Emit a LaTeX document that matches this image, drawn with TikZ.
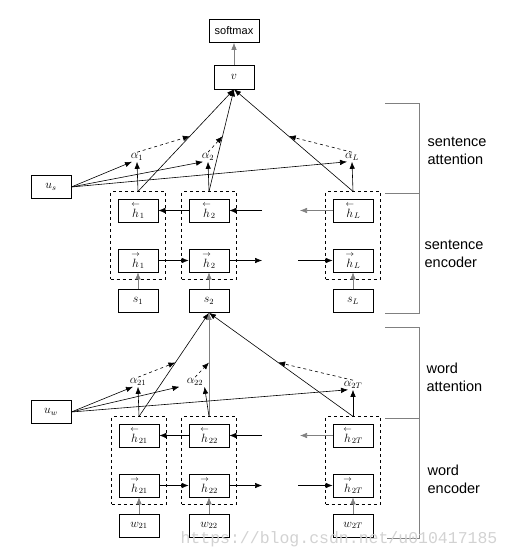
\documentclass[tikz,border=0pt]{standalone}
\usepackage{fontspec}
\usepackage{amsmath}
\setsansfont{Liberation Sans}
\setmonofont{Liberation Mono}
\usetikzlibrary{fit,calc,arrows.meta}
\tikzset{>={Latex[length=7pt,width=5.5pt]}}

\begin{document}
\begin{tikzpicture}[x=1pt,y=-1pt, line width=0.6pt,
    box/.style={draw, minimum width=40pt, minimum height=23pt, inner sep=1pt, font=\large},
    col/.style={draw, dashed, inner sep=7pt},
    alpha/.style={inner sep=1pt, font=\large},
    att/.style={->, dashed},
    feed/.style={->, gray},
    tag/.style={anchor=west, align=left, font=\sffamily\fontsize{14.5}{18}\selectfont},
    brace/.style={gray, line width=0.9pt}]
    \useasboundingbox (0,0) rectangle (510,559);

    % sentence level
    \node[box, minimum width=50pt, font=\sffamily\fontsize{11}{13}\selectfont] (softmax) at (234,31) {softmax};
    \node[box, minimum height=24pt] (v) at (234,77) {$v$};
    \node[box] (us) at (51,187) {$u_s$};
    \draw[feed] (v) -- (softmax);
    \foreach \i/\x/\s in {1/138/1, 2/209/2, 3/353/L}{
        \node[box] (hb\i) at (\x,210.5) {${\overset{\leftarrow}{h}}_{\s}$};
        \node[box] (hf\i) at (\x,260.5) {${\overset{\rightarrow}{h}}_{\s}$};
        \node[col, fit=(hb\i)(hf\i)] (sc\i) {};
        \node[box] (s\i) at (\x,301) {$s_{\s}$};
        \node[alpha] (a\i) at ($(\x,157)+(-1,0)$) {$\alpha_{\s}$};
        \draw[feed] (s\i) -- (hf\i);
        \draw[->] (sc\i.north) -- (v.south);
        \draw[->] (sc\i.north) -- (a\i.south);
        \draw[->] (us.east) -- ([xshift=-5pt]a\i.south);
        \draw[att] (a\i.north) -- ($(sc\i.north)!0.54!(v.south)$);
    }
    \coordinate (sbin) at (262,210.5);
    \coordinate (sbout) at (300,210.5);
    \coordinate (sfout) at (262,260.5);
    \coordinate (sfin) at (298,260.5);
    \draw[->] (hb2) -- (hb1);
    \draw[->] (sbin) -- (hb2);
    \draw[->, gray] (hb3) -- (sbout);
    \draw[->] (hf1) -- (hf2);
    \draw[->] (hf2) -- (sfout);
    \draw[->] (sfin) -- (hf3);

    % word level
    \node[box] (uw) at (51,412) {$u_w$};
    \foreach \i/\x/\s in {1/139/21, 2/209/22, 3/353/2T}{
        \node[box] (wb\i) at (\x,435.5) {${\overset{\leftarrow}{h}}_{\s}$};
        \node[box] (wf\i) at (\x,485.5) {${\overset{\rightarrow}{h}}_{\s}$};
        \node[col, fit=(wb\i)(wf\i)] (wc\i) {};
        \node[box] (w\i) at (\x,525.5) {$w_{\s}$};
        \draw[feed] (w\i) -- (wf\i);
    }
    \node[alpha] (b1) at (138,382) {$\alpha_{21}$};
    \node[alpha] (b2) at (195,382) {$\alpha_{22}$};
    \node[alpha] (b3) at (353,385) {$\alpha_{2T}$};
    \draw[->] (wc1.north) -- (s2.south);
    \draw[feed] (wc2.north) -- (s2.south);
    \draw[->] (wc3.north) -- (s2.south);
    \draw[->] (wc1.north) -- (b1.south);
    \draw[->] (wc2.north) -- (b2.south east);
    \draw[->] (wc3.north) -- (b3.south);
    \draw[->] (uw.east) -- ([xshift=-5pt]b1.south);
    \draw[->] (uw.east) -- ([xshift=-6pt]b2.south west);
    \draw[->] (uw.east) -- ([xshift=-5pt]b3.south);
    \foreach \i in {1,2,3}
        \draw[att] (b\i.north) -- ($(wc\i.north)!0.52!(s2.south)$);
    \coordinate (wbin) at (262,435.5);
    \coordinate (wbout) at (300,435.5);
    \coordinate (wfout) at (262,485.5);
    \coordinate (wfin) at (298,485.5);
    \draw[->] (wb2) -- (wb1);
    \draw[->] (wbin) -- (wb2);
    \draw[->, gray] (wb3) -- (wbout);
    \draw[->] (wf1) -- (wf2);
    \draw[->] (wf2) -- (wfout);
    \draw[->] (wfin) -- (wf3);

    % brackets
    \draw[brace] (385,103) -| (419,313) -- (385,313);
    \draw[brace] (385,193) -- (419,193);
    \draw[brace] (385,327) -| (419,538) -- (387,538);
    \draw[brace] (385,418) -- (419,418);
    \node[tag] (lsa) at (424,151) {sentence\\attention};
    \node[tag] (lse) at (421,254) {sentence\\encoder};
    \node[tag] (lwa) at (423,377) {word\\attention};
    \node[tag] (lwe) at (424,479) {word\\encoder};

    \node[font=\ttfamily\fontsize{16.5}{17}\selectfont, text=gray!35] (wm) at (339,539) {https://blog.csdn.net/u010417185};
\end{tikzpicture}
\end{document}
